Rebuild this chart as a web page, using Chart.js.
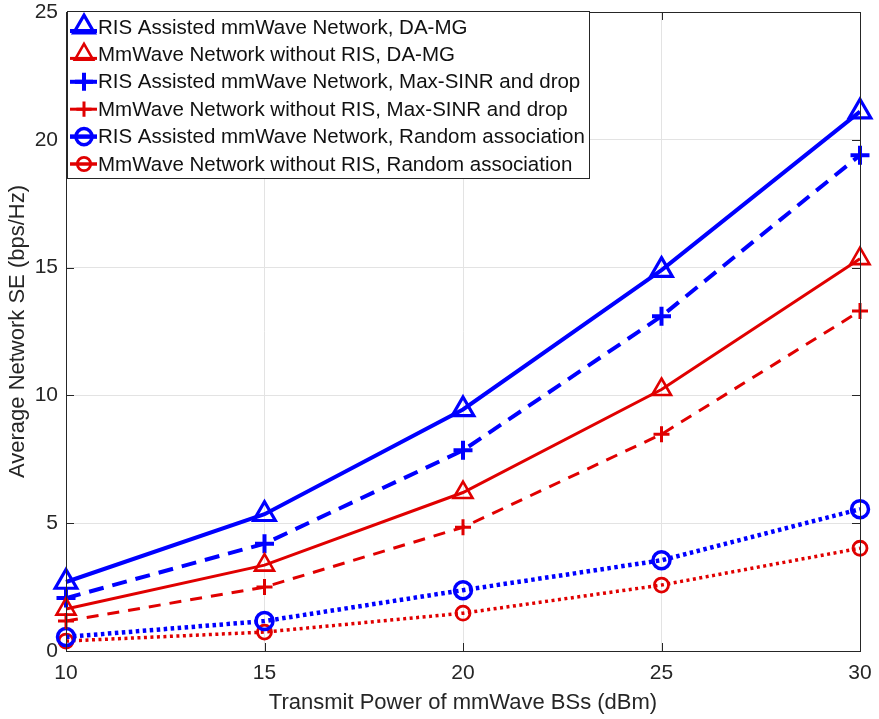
<!DOCTYPE html>
<html><head><meta charset="utf-8">
<script src="https://cdn.jsdelivr.net/npm/chart.js@4.4.1/dist/chart.umd.min.js"></script>
<style>html,body{margin:0;padding:0;background:#fff}#wrap{width:879px;height:719px}</style>
</head><body><div id="wrap"><canvas id="c" width="879" height="719"></canvas></div>
<script>
const powers = [10, 15, 20, 25, 30];
const risDAMG = [2.7, 5.35, 9.45, 14.9, 21.1];
const noRisDAMG = [1.64, 3.36, 6.2, 10.23, 15.35];
const risMaxSINR = [2.07, 4.2, 7.85, 13.1, 19.4];
const noRisMaxSINR = [1.17, 2.5, 4.84, 8.48, 13.3];
const risRandom = [0.55, 1.17, 2.38, 3.55, 5.55];
const noRisRandom = [0.39, 0.74, 1.48, 2.58, 4.02];
const xTicks = [10, 15, 20, 25, 30];
const yTicks = [0, 5, 10, 15, 20, 25];
const seriesNames = [
  'RIS Assisted mmWave Network, DA-MG',
  'MmWave Network without RIS, DA-MG',
  'RIS Assisted mmWave Network, Max-SINR and drop',
  'MmWave Network without RIS, Max-SINR and drop',
  'RIS Assisted mmWave Network, Random association',
  'MmWave Network without RIS, Random association'
];
const BLUE = '#0000ff', RED = '#e00000';
const FONT = '"Liberation Sans", Arial, Helvetica, sans-serif';
const pts = arr => arr.map((v, i) => ({x: powers[i], y: v}));

const styles = [
  {c: BLUE, w: 4, dash: [], ps: 'triangle', r: 12.5, pw: 3.2},
  {c: RED, w: 3, dash: [], ps: 'triangle', r: 11, pw: 2.6},
  {c: BLUE, w: 4, dash: [15, 9], ps: 'cross', r: 9.5, pw: 4},
  {c: RED, w: 3, dash: [12, 9], ps: 'cross', r: 8, pw: 3},
  {c: BLUE, w: 4.5, dash: [3.5, 3.5], ps: 'circle', r: 8.5, pw: 3.5},
  {c: RED, w: 3.5, dash: [3, 3.5], ps: 'circle', r: 7, pw: 2.8}
];
const seriesData = [risDAMG, noRisDAMG, risMaxSINR, noRisMaxSINR, risRandom, noRisRandom];

const datasets = seriesData.map((arr, i) => {
  const s = styles[i];
  return {
    label: seriesNames[i], data: pts(arr),
    borderColor: s.c, backgroundColor: 'rgba(0,0,0,0)',
    borderWidth: s.w, borderDash: s.dash,
    pointStyle: s.ps, pointRadius: s.r, pointBorderWidth: s.pw,
    pointBorderColor: s.c, pointBackgroundColor: 'rgba(0,0,0,0)',
    pointHoverRadius: s.r, tension: 0, fill: false, clip: false
  };
});

const frame = {
  id: 'frame',
  afterDraw(chart) {
    const {ctx, chartArea: a} = chart;
    ctx.save();
    ctx.strokeStyle = '#262626'; ctx.lineWidth = 1; ctx.setLineDash([]);
    ctx.strokeRect(Math.round(a.left) + 0.5, Math.round(a.top) + 0.5, Math.round(a.right - a.left), Math.round(a.bottom - a.top));
    const xs = chart.scales.x, ys = chart.scales.y;
    ctx.beginPath();
    xTicks.forEach(t => { const px = Math.round(xs.getPixelForValue(t)) + 0.5;
      ctx.moveTo(px, a.bottom); ctx.lineTo(px, a.bottom - 8); ctx.moveTo(px, a.top); ctx.lineTo(px, a.top + 8); });
    yTicks.forEach(t => { const py = Math.round(ys.getPixelForValue(t)) + 0.5;
      ctx.moveTo(a.left, py); ctx.lineTo(a.left + 8, py); ctx.moveTo(a.right, py); ctx.lineTo(a.right - 8, py); });
    ctx.stroke();

    // legend
    const L = 67, T = 11, W = 522, H = 167;
    ctx.fillStyle = '#fff'; ctx.fillRect(L, T, W, H);
    ctx.strokeStyle = '#262626'; ctx.lineWidth = 1;
    ctx.strokeRect(L + 0.5, T + 0.5, W, H);
    ctx.font = '20.5px ' + FONT; ctx.textBaseline = 'middle'; ctx.textAlign = 'left';
    seriesNames.forEach((name, i) => {
      const s = styles[i];
      const y = T + 16 + i * 27.4;
      const mx = 84;
      const ly = y + (s.ps === 'triangle' ? 4 : 0);
      ctx.strokeStyle = s.c; ctx.lineWidth = s.w; ctx.setLineDash([]);
      ctx.beginPath(); ctx.moveTo(70, ly); ctx.lineTo(97, ly); ctx.stroke();
      ctx.lineWidth = s.pw;
      ctx.fillStyle = 'rgba(0,0,0,0)';
      Chart.helpers.drawPoint(ctx, {pointStyle: s.ps, radius: s.r * 0.95, borderWidth: s.pw, rotation: 0}, mx, y);
      ctx.fillStyle = '#111';
      ctx.fillText(name, 98, y + 1);
    });
    ctx.restore();
  }
};

new Chart(document.getElementById('c'), {
  type: 'line',
  data: {datasets},
  options: {
    responsive: false, animation: false,
    layout: {padding: {left: 0, right: 19, top: 12, bottom: 0}},
    plugins: {legend: {display: false}, tooltip: {enabled: false}},
    scales: {
      x: {
        type: 'linear', min: 10, max: 30,
        afterBuildTicks: s => { s.ticks = xTicks.map(v => ({value: v})); },
        afterFit: s => { s.height = 68; s.paddingLeft = 0; s.paddingRight = 0; s.paddingTop = 0; s.paddingBottom = 0; },
        grid: {color: '#e3e3e3', lineWidth: 1, drawTicks: false},
        border: {display: false},
        ticks: {color: '#262626', font: {size: 21, family: FONT}, padding: 10, maxRotation: 0},
        title: {display: true, text: 'Transmit Power of mmWave BSs (dBm)', color: '#262626', font: {size: 22, family: FONT}, padding: {top: 0, bottom: 3}}
      },
      y: {
        min: 0, max: 25,
        afterBuildTicks: s => { s.ticks = yTicks.map(v => ({value: v})); },
        afterFit: s => { s.width = 66; s.paddingTop = 0; s.paddingBottom = 0; s.paddingLeft = 0; s.paddingRight = 0; },
        grid: {color: '#e3e3e3', lineWidth: 1, drawTicks: false},
        border: {display: false},
        ticks: {color: '#262626', font: {size: 21, family: FONT}, padding: 8},
        title: {display: true, text: 'Average Network SE (bps/Hz)', color: '#262626', font: {size: 22, family: FONT}, padding: {top: 5, bottom: 0}}
      }
    }
  },
  plugins: [frame, {
    id: 'fixArea',
    afterLayout(chart) {
      const a = chart.chartArea;
      const top = 12, bottom = 651, left = 66, right = 860;
      a.top = top; a.bottom = bottom; a.left = left; a.right = right;
      a.width = right - left; a.height = bottom - top;
      const ys = chart.scales.y, xs = chart.scales.x;
      ys.top = top; ys.bottom = bottom; ys.height = bottom - top;
      xs.left = left; xs.right = right; xs.width = right - left;
      xs.top = bottom; xs.bottom = 719; 
      ys.configure(); xs.configure();
    }
  }]
});
</script></body></html>
